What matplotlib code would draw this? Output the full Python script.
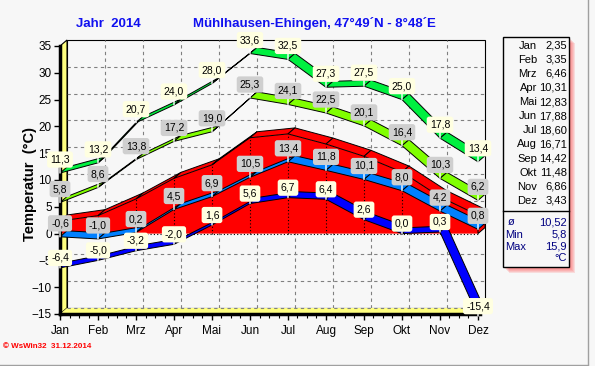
import numpy as np
import matplotlib
matplotlib.use("Agg")
import matplotlib.pyplot as plt
from matplotlib.patches import Polygon, Rectangle
from matplotlib.lines import Line2D

months = ["Jan", "Feb", "Mrz", "Apr", "Mai", "Jun", "Jul", "Aug", "Sep", "Okt", "Nov", "Dez"]
abs_max = [11.3, 13.2, 20.7, 24.0, 28.0, 33.6, 32.5, 27.3, 27.5, 25.0, 17.8, 13.4]
mean_max = [5.8, 8.6, 13.8, 17.2, 19.0, 25.3, 24.1, 22.5, 20.1, 16.4, 10.3, 6.2]
mean_temp = [2.35, 3.35, 6.46, 10.31, 12.83, 17.88, 18.60, 16.71, 14.42, 11.48, 6.86, 3.43]
mean_min = [-0.6, -1.0, 0.2, 4.5, 6.9, 10.5, 13.4, 11.8, 10.1, 8.0, 4.2, 0.8]
abs_min = [-6.4, -5.0, -3.2, -2.0, 1.6, 5.6, 6.7, 6.4, 2.6, 0.0, 0.3, -15.4]
year_mean = "10,52"
year_min = "5,8"
year_max = "15,9"

W, H = 595, 366
BG = "#F7F7F7"
plt.rcParams['font.family'] = ['Liberation Sans', 'DejaVu Sans']

fig = plt.figure(figsize=(W / 100, H / 100), dpi=100, facecolor=BG)
ax = fig.add_axes([60 / W, (H - 314) / H, 418 / W, 268 / H])
ax.set_xlim(0, 11)
ax.set_ylim(-15, 35)
ax.patch.set_visible(False)

# depth offset of the pseudo-3d look (in data units)
dx = 7 / 38
dy = 6 * 50 / 268
x = np.arange(12)

# back panel, walls and grid
ax.add_patch(Rectangle((dx, -15 + dy), 11, 50, fc=BG, ec="black", lw=0.8, zorder=0, clip_on=False))
for lev in range(-15, 35, 5):
    ax.plot([dx, 11 + dx], [lev + dy, lev + dy], color="#808080", lw=0.8, ls=(0, (3, 3)), zorder=1, clip_on=False)
for k in range(1, 11):
    ax.plot([k + dx, k + dx], [-15 + dy, 35 + dy], color="#808080", lw=0.8, ls=(0, (3, 3)), zorder=1, clip_on=False)
ax.add_patch(Polygon([(0, -15), (0, 35), (dx, 35 + dy), (dx, -15 + dy)], closed=True,
                     fc="#FFFF80", ec="black", lw=0.8, zorder=1.5, clip_on=False))
ax.add_patch(Polygon([(0, -15), (11, -15), (11 + dx, -15 + dy), (dx, -15 + dy)], closed=True,
                     fc="#FFFF80", ec="none", zorder=1.5, clip_on=False))
ax.plot([dx, 11 + dx], [-15 + dy, -15 + dy], color="#808080", lw=0.8, ls=(0, (3, 3)), zorder=1.6, clip_on=False)


def ribbon(vals, color, z):
    for i in range(11):
        pts = [(x[i], vals[i]), (x[i + 1], vals[i + 1]),
               (x[i + 1] + dx, vals[i + 1] + dy), (x[i] + dx, vals[i] + dy)]
        ax.add_patch(Polygon(pts, closed=True, fc=color, ec="black", lw=0.7, zorder=z, clip_on=False))


# mean temperature as 3d area
front = [(x[i], mean_temp[i]) for i in range(12)] + [(11, 0), (0, 0)]
ax.add_patch(Polygon(front, closed=True, fc="#FF0000", ec="none", zorder=3, clip_on=False))
ax.add_patch(Polygon([(11, 0), (11, mean_temp[-1]), (11 + dx, mean_temp[-1] + dy), (11 + dx, dy)],
                     closed=True, fc="#FF0000", ec="black", lw=0.7, zorder=3, clip_on=False))
ribbon(mean_temp, "#FF0000", 3.1)
ax.plot([0, 11], [0, 0], color="black", lw=0.8, ls=(0, (1, 2)), zorder=3.2, clip_on=False)
for i in range(1, 11):
    ax.plot([x[i], x[i]], [0, mean_temp[i]], color="black", lw=0.8, ls=(0, (1, 2)), zorder=3.2)

ribbon(abs_max, "#00F040", 4)
ribbon(mean_max, "#80FF00", 4.2)
ribbon(mean_min, "#0080FF", 4.4)
ribbon(abs_min, "#0000FF", 4.6)


def labels(vals, fc, off):
    for i in range(12):
        ax.annotate(f"{vals[i]:.1f}".replace(".", ","), (x[i], vals[i]),
                    xytext=(0, off), textcoords="offset points", ha="center", va="center",
                    fontsize=7.5, zorder=10, annotation_clip=False,
                    bbox=dict(boxstyle="round,pad=0.3,rounding_size=0.25", fc=fc, ec="none"),
                    arrowprops=dict(arrowstyle="-", color="white", lw=1, shrinkA=0, shrinkB=0))


labels(abs_max, "#FFFFE1", 9.7)
labels(mean_max, "#CFCFCF", 9.7)
labels(mean_min, "#CFCFCF", 9.7)
labels(abs_min, "#FFFFE1", 7.2)

# axes
for s in ["top", "right"]:
    ax.spines[s].set_visible(False)
ax.spines["left"].set_linewidth(2.5)
ax.spines["bottom"].set_linewidth(2.5)
ax.spines["bottom"].set_bounds(0, 11 + dx * 0.3)
ax.spines["left"].set_zorder(5)
ax.spines["bottom"].set_zorder(5)
ax.set_xticks(x)
ax.set_xticklabels(months)
ax.set_xticks(np.arange(0, 11.01, 0.25), minor=True)
ax.set_yticks(np.arange(-15, 36, 5))
ax.tick_params(axis="both", which="major", length=4, width=1, labelsize=8.5, colors="black")
ax.tick_params(axis="x", which="major", pad=4)
ax.tick_params(axis="y", which="major", pad=2)
ax.tick_params(axis="x", which="minor", length=3, width=0.8)

# titles
fig.text(76 / W, 1 - 24 / H, "Jahr  2014", color="#1010F0", fontsize=9.5, fontweight="bold", ha="left", va="center")
fig.text(193 / W, 1 - 24 / H, "Mühlhausen-Ehingen, 47°49´N - 8°48´E", color="#1010F0", fontsize=9.5,
         fontweight="bold", ha="left", va="center")
fig.text(30 / W, 1 - 184 / H, "Temperatur  (°C)", rotation=90, fontsize=10.5, fontweight="bold",
         ha="center", va="center")
fig.text(3 / W, 1 - 347 / H, "© WsWin32  31.12.2014", color="red", fontsize=5.8, fontweight="bold",
         ha="left", va="center")

# legend box with shadow
for k in range(6, 0, -1):
    fig.patches.append(Rectangle(((503 + k) / W, 1 - (267 + k) / H), 66 / W, 230 / H,
                                 transform=fig.transFigure, fc="#FF6060", ec="none", alpha=0.18))
fig.patches.append(Rectangle((503 / W, 1 - 267 / H), 66 / W, 230 / H, transform=fig.transFigure,
                             fc=BG, ec="black", lw=1))
fig.add_artist(Line2D([503 / W, 569 / W], [1 - 211 / H, 1 - 211 / H], color="black", lw=1))
lfs = 8
for i in range(12):
    yy = 1 - (45.7 + 14.1 * i) / H
    fig.text(537 / W, yy, months[i], fontsize=lfs, ha="right", va="center")
    fig.text(567 / W, yy, f"{mean_temp[i]:.2f}".replace(".", ","), fontsize=lfs, ha="right", va="center")
navy = "#000080"
fig.text(508 / W, 1 - 222.5 / H, "ø", fontsize=lfs, color=navy, ha="left", va="center")
fig.text(567 / W, 1 - 222.5 / H, year_mean, fontsize=lfs, color=navy, ha="right", va="center")
fig.text(505 / W, 1 - 234.5 / H, "Min", fontsize=lfs, color=navy, ha="left", va="center")
fig.text(567 / W, 1 - 234.5 / H, year_min, fontsize=lfs, color=navy, ha="right", va="center")
fig.text(505 / W, 1 - 246.5 / H, "Max", fontsize=lfs, color=navy, ha="left", va="center")
fig.text(567 / W, 1 - 246.5 / H, year_max, fontsize=lfs, color=navy, ha="right", va="center")
fig.text(567 / W, 1 - 258 / H, "°C", fontsize=lfs, color=navy, ha="right", va="center")

# panel border
fig.add_artist(Line2D([587.5 / W, 587.5 / W], [1 - 364 / H, 1], color="#A0A0A0", lw=1))
fig.add_artist(Line2D([0, 587.5 / W], [1 - 364.5 / H, 1 - 364.5 / H], color="#A0A0A0", lw=1))

fig.savefig("out.png", dpi=100, facecolor=BG)
